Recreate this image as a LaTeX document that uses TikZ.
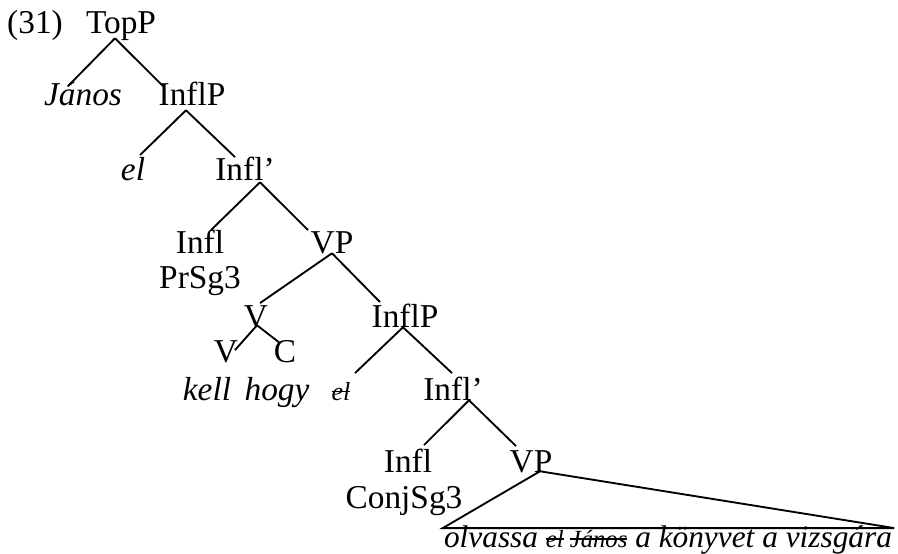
\documentclass[tikz,border=0pt]{standalone}
\usepackage{fontspec}
\setmainfont{Liberation Serif}
\usetikzlibrary{calc}
\newcommand{\barre}[1]{\setbox0=\hbox{#1}\rlap{\rule[0.3em]{\wd0}{1.1pt}}\box0\relax}
\begin{document}
\fontsize{25}{29}\selectfont
\begin{tikzpicture}  % ------ arbre (31) -----------
      [x=0.75pt,y=-0.75pt,
       every node/.style={inner sep=0pt,text height=17pt,text depth=0pt,anchor=base},
       branch/.style={line width=1.4pt},
       petit/.style={font=\fontsize{19.5}{22}\selectfont\itshape}]
    \useasboundingbox (0,0) rectangle (898,553);

    \node (num)      at (35,33)   {(31)};
    \node (topp)     at (121,33)  {TopP};
    \node (janos)    at (83,105)  {\textit{János}};
    \node (inflp)    at (192,105) {InflP};
    \node (el)       at (133,180) {\textit{el}};
    \node (inflbar)  at (245,180) {Infl’};
    \node (infl)     at (200,253) {Infl};
    \node (prsg)     at (200,288) {PrSg3};
    \node (vp)       at (332,253) {VP};
    \node (v)        at (256,327) {V};
    \node (inflpb)   at (405,327) {InflP};
    \node (vl)       at (226,362) {V};
    \node (c)        at (285,362) {C};
    \node (kell)     at (207,400) {\textit{kell}};
    \node (hogy)     at (277,400) {\textit{hogy}};
    \node [petit] (elsm) at (341,400) {\barre{el}};
    \node (inflbarb) at (453,400) {Infl’};
    \node (inflb)    at (408,472) {Infl};
    \node (conj)     at (404,508) {ConjSg3};
    \node (vpb)      at (531,472) {VP};
    \node [font=\fontsize{23.5}{27}\selectfont] (bas) at (668,547)
        {\textit{olvassa {\fontsize{18.5}{21}\selectfont\barre{el} \barre{János}} a könyvet a vizsgára}};

    \draw [branch] ($(topp.south)+(-6,5)$) -- ($(janos.north)+(-15,4)$);
    \draw [branch] ($(topp.south)+(-6,5)$) -- ($(inflp.north)+(-29,4)$);
    \draw [branch] ($(inflp.south)+(-6,5)$) -- ($(el.north)+(7,-2)$);
    \draw [branch] ($(inflp.south)+(-6,5)$) -- ($(inflbar.north)+(-10,0)$);
    \draw [branch] ($(inflbar.south)+(15,2)$) -- ($(infl.north)+(11,0)$);
    \draw [branch] ($(inflbar.south)+(15,2)$) -- ($(vp.north)+(-24,0)$);
    \draw [branch] (vp.south) -- ($(v.north)+(4,-1)$);
    \draw [branch] (vp.south) -- ($(inflpb.north)+(-25,-2)$);
    \draw [branch] ($(v.south)+(1,-2)$) -- ($(vl.north)+(9,11)$);
    \draw [branch] ($(v.south)+(1,-2)$) -- ($(c.north)+(-5,4)$);
    \draw [branch] ($(inflpb.south)+(-2,0)$) -- ($(elsm.north)+(14,-4)$);
    \draw [branch] ($(inflpb.south)+(-2,0)$) -- ($(inflbarb.north)+(-1,-4)$);
    \draw [branch] ($(inflbarb.south)+(16,0)$) -- ($(inflb.north)+(16,-4)$);
    \draw [branch] ($(inflbarb.south)+(16,0)$) -- ($(vpb.north)+(-15,-3)$);

    % triangle
    \draw [branch] ($(vpb.south)+(9,-1)$) -- ($(bas.north west)+(-1,4)$)
        -- ($(bas.north east)+(2,4)$) -- cycle;
\end{tikzpicture}
\end{document}
